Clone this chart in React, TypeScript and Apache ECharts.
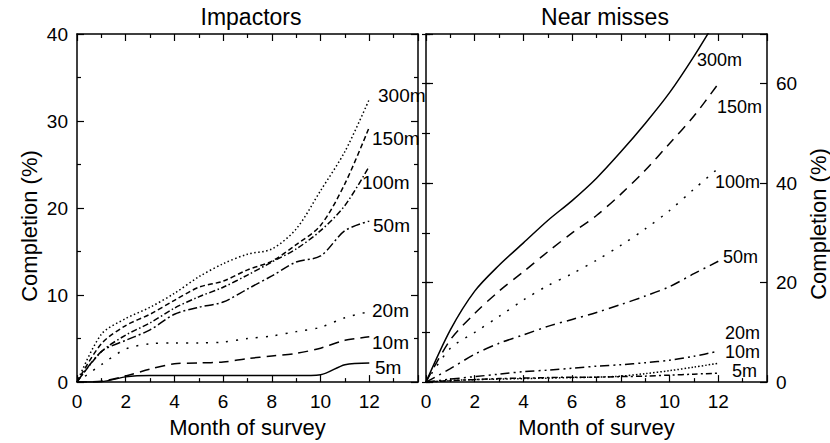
import React, { useEffect, useRef } from "react";
import * as echarts from "echarts";

const months = [0, 1, 2, 3, 4, 5, 6, 7, 8, 9, 10, 11, 12];
const sizeLabels = ["300m", "150m", "100m", "50m", "20m", "10m", "5m"];

// Impactors (%), per month
const imp300 = [0, 5.5, 7.3, 8.6, 10.2, 12.1, 13.6, 14.7, 15.3, 17.6, 22, 26.5, 32.5];
const imp150 = [0, 4.4, 6.5, 7.8, 9.4, 10.9, 11.6, 12.9, 13.9, 15.8, 18, 22.8, 29.3];
const imp100 = [0, 3.5, 5.4, 6.8, 8.5, 9.8, 10.9, 12.3, 13.8, 15.3, 17.4, 20.3, 24.8];
const imp50 = [0, 3.5, 4.8, 6.0, 7.8, 8.6, 9.2, 10.7, 12.2, 13.8, 14.5, 17.4, 18.5];
const imp20 = [0, 2.0, 3.8, 4.4, 4.5, 4.5, 4.6, 5.0, 5.3, 5.8, 6.3, 7.4, 8.1];
const imp10 = [0, 0.1, 0.7, 1.5, 2.1, 2.2, 2.3, 2.7, 3.0, 3.3, 3.9, 4.8, 5.2];
const imp5 = [0, 0.05, 0.6, 0.75, 0.75, 0.75, 0.75, 0.75, 0.75, 0.75, 0.85, 2.0, 2.2];

// Near misses (%), per month
const nm300 = [0, 10.5, 18.3, 23.5, 28, 32.5, 36.5, 41, 46.3, 52, 58.2, 65.5, 73.5];
const nm150 = [0, 8.5, 13.8, 18.3, 22.2, 26.2, 30, 33.5, 37.8, 42.6, 48, 53.5, 60];
const nm100 = [0, 6.8, 10, 13.2, 16.5, 19.4, 21.8, 24.5, 27.5, 30.8, 34.5, 38.8, 43];
const nm50 = [0, 2.7, 5.6, 7.8, 9.5, 11.2, 12.6, 14, 15.6, 17.3, 19.2, 21.8, 24.3];
const nm20 = [0, 0.6, 1.1, 1.6, 2.1, 2.4, 2.8, 3.2, 3.5, 3.9, 4.4, 5.2, 6.2];
const nm10 = [0, 0.3, 0.5, 0.6, 0.7, 0.8, 0.9, 1.0, 1.2, 1.7, 2.3, 3.0, 3.8];
const nm5 = [0, 0.3, 0.5, 0.7, 0.8, 0.9, 1.0, 1.0, 1.1, 1.2, 1.4, 1.6, 1.8];

const impSeries = [imp300, imp150, imp100, imp50, imp20, imp10, imp5];
const nmSeries = [nm300, nm150, nm100, nm50, nm20, nm10, nm5];

const FONT = "Arial, 'Liberation Sans', Helvetica, sans-serif";

const impDash: any[] = [[1.5, 2.5], [5, 3], [6, 2.5, 1.5, 2.5], [9, 3, 2, 3], [2, 8], [10, 6], "solid"];
const nmDash: any[] = ["solid", [10, 7], [2, 8], [10, 5, 2, 5], [9, 4, 2, 4, 2, 4], [1.5, 2], [6, 3, 2, 3]];

const impLabelPos = [[378, 95], [372, 138], [362, 182], [373, 225], [372, 310], [372, 342], [375, 367]];
const nmLabelPos = [[697, 60], [717, 107], [715, 182], [723, 257], [725, 333], [725, 352], [732, 371]];

export default function App() {
  const ref = useRef<HTMLDivElement>(null);
  useEffect(() => {
    const chart = echarts.init(ref.current!, null, { renderer: "svg" });
    const axisLine = { show: true, onZero: false, lineStyle: { color: "#000", width: 1.5 } };
    const tickLabel = { color: "#000", fontSize: 19, fontFamily: FONT };
    const xAx = (grid: number, pos: string, labels: boolean, name?: string) => ({
      type: "value",
      gridIndex: grid,
      position: pos,
      min: 0,
      max: 14,
      interval: 2,
      axisLine,
      splitLine: { show: false },
      axisTick: { show: true, inside: true, length: 7, lineStyle: { color: "#000", width: 1.2 } },
      minorTick: { show: true, splitNumber: 2, length: 4, lineStyle: { color: "#000", width: 1.2 } },
      axisLabel: {
        show: labels,
        ...tickLabel,
        margin: 10,
        formatter: (v: number) => (v > 12 ? "" : String(v)),
      },
      name: name || "",
      nameLocation: "middle",
      nameGap: 33,
      nameTextStyle: { color: "#000", fontSize: 22, fontFamily: FONT },
    });
    const yAx = (grid: number, pos: string, labels: boolean, max: number, interval: number, major: boolean, minor: boolean) => ({
      type: "value",
      gridIndex: grid,
      position: pos,
      min: 0,
      max,
      interval,
      axisLine: major ? axisLine : { show: false },
      splitLine: { show: false },
      axisTick: { show: true, inside: true, length: major ? 7 : 4, lineStyle: { color: "#000", width: 1.2 } },
      minorTick: { show: minor, splitNumber: 2, length: 4, lineStyle: { color: "#000", width: 1.2 } },
      axisLabel: {
        show: labels,
        ...tickLabel,
        margin: 9,
        formatter: (v: number) => (v > (max === 70 ? 60 : 40) ? "" : String(v)),
      },
    });

    const mkSeries = (arrs: number[][], dashes: any[], xi: number, yi: number) =>
      arrs.map((arr, i) => ({
        type: "line",
        name: sizeLabels[i],
        xAxisIndex: xi,
        yAxisIndex: yi,
        data: months.map((m, k) => [m, arr[k]]),
        showSymbol: false,
        smooth: 0.3,
        clip: true,
        lineStyle: { color: "#000", width: 1.5, type: dashes[i] },
      }));

    const txt = (text: string, x: number, y: number, size: number, align = "left", rotation = 0) => ({
      type: "text",
      x,
      y,
      rotation,
      style: {
        text,
        x: 0,
        y: 0,
        fill: "#000",
        fontSize: size,
        fontFamily: FONT,
        textAlign: align,
        align,
        textVerticalAlign: "middle",
        verticalAlign: "middle",
      },
    });

    const graphics: any[] = [
      txt("Impactors", 251, 17, 23, "center"),
      txt("Near misses", 605, 17, 23, "center"),
      txt("Completion (%)", 29, 226, 22, "center", Math.PI / 2),
      txt("Completion (%)", 818, 224, 22, "center", Math.PI / 2),
    ];
    sizeLabels.forEach((s, i) => {
      graphics.push(txt(s, impLabelPos[i][0], impLabelPos[i][1], 19));
      graphics.push(txt(s, nmLabelPos[i][0], nmLabelPos[i][1], 18));
    });

    chart.setOption({
      animation: false,
      backgroundColor: "#fff",
      grid: [
        { left: 77, top: 34, width: 341, height: 350 },
        { left: 426, top: 34, width: 341, height: 350 },
      ],
      xAxis: [
        xAx(0, "bottom", true, "Month of survey"),
        xAx(0, "top", false),
        xAx(1, "bottom", true, "Month of survey"),
        xAx(1, "top", false),
      ],
      yAxis: [
        yAx(0, "left", true, 40, 10, true, true),
        yAx(0, "right", false, 40, 10, true, true),
        yAx(1, "left", false, 70, 20, true, false),
        yAx(1, "right", true, 70, 20, true, false),
        yAx(1, "left", false, 70, 10, false, false),
        yAx(1, "right", false, 70, 10, false, false),
      ],
      series: [...mkSeries(impSeries, impDash, 0, 0), ...mkSeries(nmSeries, nmDash, 2, 3)],
      graphic: graphics,
    });
    return () => chart.dispose();
  }, []);
  return (
    <div
      ref={ref}
      style={{ position: "fixed", left: 0, top: 0, width: 830, height: 443, background: "#fff" }}
    />
  );
}
